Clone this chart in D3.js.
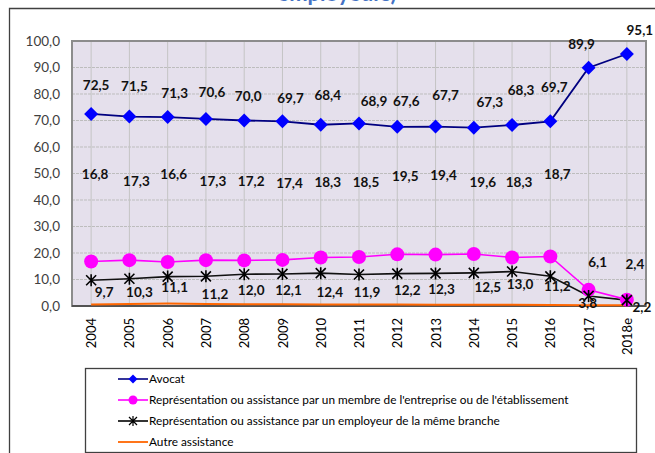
<!DOCTYPE html>
<html><head><meta charset="utf-8">
<script src="https://cdn.jsdelivr.net/npm/d3@7/dist/d3.min.js"></script>
<style>
html,body{margin:0;padding:0;background:#fff;}
svg{display:block;font-family:Lato,"Open Sans",sans-serif;}
</style></head>
<body>
<svg id="chart" width="655" height="453"></svg>
<script>
// ---- data ----
const categories = ["2004","2005","2006","2007","2008","2009","2010","2011","2012","2013","2014","2015","2016","2017","2018e"];
const avocat = [72.5,71.5,71.3,70.6,70.0,69.7,68.4,68.9,67.6,67.7,67.3,68.3,69.7,89.9,95.1];
const membre = [16.8,17.3,16.6,17.3,17.2,17.4,18.3,18.5,19.5,19.4,19.6,18.3,18.7,6.1,2.4];
const employeur = [9.7,10.3,11.1,11.2,12.0,12.1,12.4,11.9,12.2,12.3,12.5,13.0,11.2,3.8,2.2];
const autre = [0.6,0.8,0.9,0.8,0.7,0.7,0.6,0.6,0.6,0.5,0.5,0.5,0.4,0.3,0.3];
const yTicks = [0,10,20,30,40,50,60,70,80,90,100];
const seriesNames = ["Avocat","Représentation ou assistance par un membre de l'entreprise ou de l'établissement","Représentation ou assistance par un employeur de la même branche","Autre assistance"];
const titleText = "employeurs)";

// ---- label layout offsets (px, relative to point) ----
const avocatLblDx = [5,5,7,6,4,8,7,15,9,10,16,9,4,-7,13];
const avocatLblDy = [-29,-30,-24,-27,-24,-23,-29,-22,-26,-31,-25,-35,-34,-23,-24];
const membreLblDx = [4,7,6,7,7,7,7,7,8,8,9,7,7,9,8];
const membreLblDy = [-87,-79,-88,-79,-79,-77,-75,-75,-78,-79,-72,-75,-82,-28,-35];
const employeurLblDx = [13,10,7,9,7,6,9,8,10,6,14,8,7,-1,15];
const employeurLblDy = [12,14,11,18,16,16,19,18,17,16,14,13,10,7,7];

const svg = d3.select("#chart");
const L = 72, R = 646, T = 41, B = 306;

// outer frame
svg.append("path").attr("d","M9.5,453 L9.5,8.5 L655,8.5").attr("fill","none").attr("stroke","#404040").attr("stroke-width",1.3);
// title (clipped at the top, as in the reference)
svg.append("text").attr("x",337).attr("y",1).attr("text-anchor","middle")
  .attr("font-size",22).attr("font-weight","bold").attr("fill","#4472c4").text(titleText);

const x = d3.scalePoint().domain(categories).range([L,R]).padding(0.5);
const y = d3.scaleLinear().domain([0,100]).range([B,T]);

// plot background
svg.append("rect").attr("x",L).attr("y",T).attr("width",R-L).attr("height",B-T).attr("fill","#e5e0ec");
// grid
svg.append("g").selectAll("line").data(yTicks).join("line")
  .attr("x1",L).attr("x2",R).attr("y1",d=>y(d)).attr("y2",d=>y(d))
  .attr("stroke","#bdbdbd").attr("stroke-width",1).attr("stroke-dasharray","3,1");
svg.append("g").selectAll("line").data(categories).join("line")
  .attr("x1",d=>x(d)).attr("x2",d=>x(d)).attr("y1",T).attr("y2",B)
  .attr("stroke","#c4c4c4").attr("stroke-width",1);
svg.append("rect").attr("x",L).attr("y",T).attr("width",R-L).attr("height",B-T)
  .attr("fill","none").attr("stroke","#8c8c8c").attr("stroke-width",2);
svg.append("line").attr("x1",L).attr("x2",R).attr("y1",B).attr("y2",B).attr("stroke","#404040").attr("stroke-width",1.5);

// y axis
const yAxis = d3.axisLeft(y).tickValues(yTicks).tickSize(0).tickPadding(12)
  .tickFormat(d=>d3.format(".1f")(d).replace(".",","));
const gy = svg.append("g").attr("transform",`translate(${L},0)`).call(yAxis);
gy.select(".domain").remove();
gy.selectAll("text").attr("font-size",13.5).attr("fill","#404040").attr("font-family","Lato,sans-serif");

// x axis
const xAxis = d3.axisBottom(x).tickSize(0);
const gx = svg.append("g").attr("transform",`translate(0,${B})`).call(xAxis);
gx.select(".domain").remove();
gx.selectAll("text").attr("font-size",13).attr("fill","#000").attr("font-family","Lato,sans-serif")
  .attr("transform","rotate(-90)").attr("text-anchor","end").attr("x",-12).attr("y",0).attr("dy","0.35em");

const line = d3.line().x((d,i)=>x(categories[i])).y(d=>y(d));

// autre
svg.append("path").datum(autre).attr("d",line).attr("fill","none").attr("stroke","#ff6600").attr("stroke-width",2);

// employeur
svg.append("path").datum(employeur).attr("d",line).attr("fill","none").attr("stroke","#111").attr("stroke-width",1.6);

// membre
svg.append("path").datum(membre).attr("d",line).attr("fill","none").attr("stroke","#ff00ff").attr("stroke-width",1.6);
svg.append("g").selectAll("circle").data(membre).join("circle")
  .attr("cx",(d,i)=>x(categories[i])).attr("cy",d=>y(d)).attr("r",7).attr("fill","#ff00ff");

// employeur markers (above magenta)
const star = "M-5,-5L5,5M-5,5L5,-5M0,-6L0,6";
svg.append("g").selectAll("path").data(employeur).join("path")
  .attr("transform",(d,i)=>`translate(${x(categories[i])},${y(d)})`)
  .attr("d",star).attr("stroke","#000").attr("stroke-width",1.6).attr("fill","none");

// avocat
svg.append("path").datum(avocat).attr("d",line).attr("fill","none").attr("stroke","#000080").attr("stroke-width",1.8);
svg.append("g").selectAll("path").data(avocat).join("path")
  .attr("transform",(d,i)=>`translate(${x(categories[i])},${y(d)})`)
  .attr("d","M0,-7L7,0L0,7L-7,0Z").attr("fill","#0000ff");

// labels
const fmt = v=>d3.format(".1f")(v).replace(".",",");
function labels(data,dx,dy){
  svg.append("g").selectAll("text").data(data).join("text")
    .attr("x",(d,i)=>x(categories[i])+dx[i]).attr("y",(d,i)=>y(d)+dy[i])
    .attr("dy","0.35em").attr("text-anchor","middle")
    .attr("font-size",13.5).attr("font-weight","bold").attr("fill","#111")
    .text(fmt);
}
labels(avocat,avocatLblDx,avocatLblDy);
labels(membre,membreLblDx,membreLblDy);
labels(employeur,employeurLblDx,employeurLblDy);

// legend
const lg = svg.append("g");
lg.append("rect").attr("x",85.5).attr("y",368.5).attr("width",551).attr("height",84).attr("fill","#fff").attr("stroke","#404040").attr("stroke-width",1.3);
const rowY = [379,400,421,442];
const lineCols = ["#000080","#ff00ff","#000","#ff6600"];
seriesNames.forEach((name,i)=>{
  lg.append("line").attr("x1",118).attr("x2",148).attr("y1",rowY[i]).attr("y2",rowY[i]).attr("stroke",lineCols[i]).attr("stroke-width",i===3?1.8:1.6);
  if(i===0) lg.append("path").attr("transform",`translate(133,${rowY[i]})`).attr("d","M0,-4.5L4.5,0L0,4.5L-4.5,0Z").attr("fill","#0000ff");
  if(i===1) lg.append("circle").attr("cx",133).attr("cy",rowY[i]).attr("r",4.5).attr("fill","#ff00ff");
  if(i===2) lg.append("path").attr("transform",`translate(133,${rowY[i]})`).attr("d","M-4,-4L4,4M-4,4L4,-4M0,-5L0,5").attr("stroke","#000").attr("stroke-width",1.2);
  lg.append("text").attr("x",149).attr("y",rowY[i]).attr("dy","0.35em").attr("font-size",11.8).attr("fill","#000").text(name);
});
</script>
</body></html>
